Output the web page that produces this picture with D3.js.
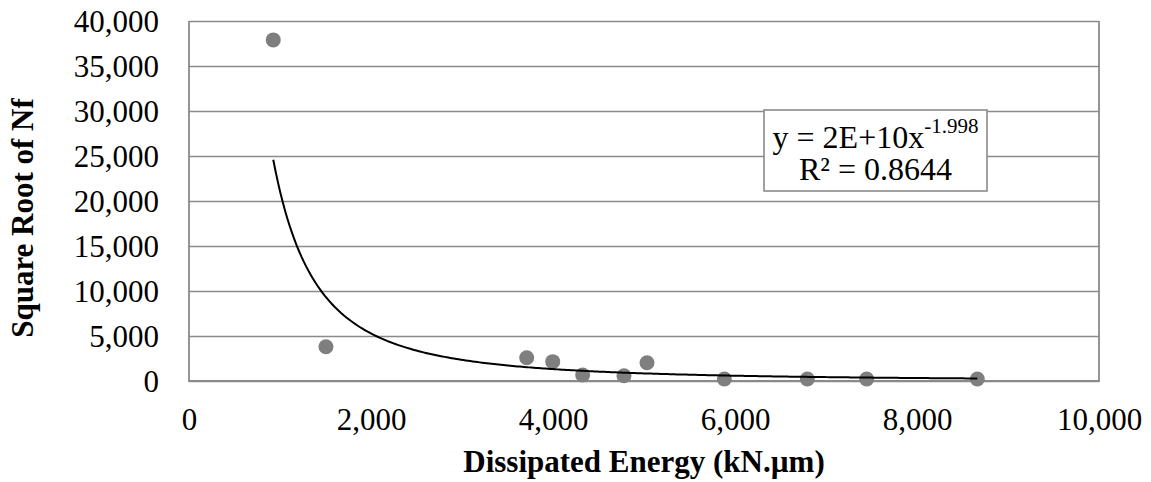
<!DOCTYPE html>
<html>
<head>
<meta charset="utf-8">
<script src="https://cdn.jsdelivr.net/npm/d3@7"></script>
<style>
  html, body { margin: 0; padding: 0; background: #fff; }
  svg { display: block; }
  text { font-family: "Liberation Serif", "Times New Roman", serif; fill: #000; }
</style>
</head>
<body>
<svg id="chart" width="1151" height="482"></svg>
<script>
// Dissipated energy (kN.µm) vs square root of cycles to failure
const energy = [926, 1505, 3711, 3997, 4326, 4780, 5033, 5883, 6795, 7447, 8663];
const sqrtNf = [37900, 3810, 2590, 2150, 670, 590, 2030, 230, 230, 230, 230];

const xTicks = [0, 2000, 4000, 6000, 8000, 10000];
const yTicks = [0, 5000, 10000, 15000, 20000, 25000, 30000, 35000, 40000];

// Power trendline y = a * x^b
const trendA = 2.08e10;
const trendB = -1.998;
const trendR2 = 0.8644;

const xTitle = "Dissipated Energy (kN.µm)";
const yTitle = "Square Root of Nf";

const svg = d3.select("#chart");
const margin = { left: 189, right: 52, top: 21, bottom: 101 };
const W = 1151, H = 482;
const iw = W - margin.left - margin.right;
const ih = H - margin.top - margin.bottom;

const x = d3.scaleLinear().domain([0, 10000]).range([0, iw]);
const y = d3.scaleLinear().domain([0, 40000]).range([ih, 0]);

const g = svg.append("g").attr("transform", `translate(${margin.left},${margin.top})`);
const grey = "#8a8a8a";
const fmt = d3.format(",");

// horizontal gridlines + y tick labels
const yAxis = g.append("g")
  .call(d3.axisLeft(y).tickValues(yTicks).tickFormat(fmt).tickSize(-iw).tickPadding(30));
yAxis.select(".domain").remove();
yAxis.selectAll(".tick line").attr("stroke", grey).attr("stroke-width", 1.6);
yAxis.selectAll(".tick text").style("font-size", "31px").attr("dy", "0.34em");

// x tick labels
const xAxis = g.append("g").attr("transform", `translate(0,${ih})`)
  .call(d3.axisBottom(x).tickValues(xTicks).tickFormat(fmt).tickSize(0).tickPadding(27));
xAxis.select(".domain").remove();
xAxis.selectAll(".tick text").style("font-size", "31px");

// plot frame (left, bottom, right)
g.append("path")
  .attr("d", `M0,0V${ih}H${iw}V0`)
  .attr("fill", "none").attr("stroke", grey).attr("stroke-width", 1.8);

// data points
g.append("g").selectAll("circle")
  .data(energy.map((e, i) => [e, sqrtNf[i]]))
  .join("circle")
  .attr("cx", d => x(d[0]))
  .attr("cy", d => y(d[1]))
  .attr("r", 7.5)
  .attr("fill", "#7f7f7f");

// power trendline across the data range
const xMin = d3.min(energy), xMax = d3.max(energy);
const curve = d3.range(0, 301).map(i => {
  const xv = xMin + (xMax - xMin) * i / 300;
  return [xv, trendA * Math.pow(xv, trendB)];
});
g.append("path")
  .datum(curve)
  .attr("fill", "none")
  .attr("stroke", "#000")
  .attr("stroke-width", 2)
  .attr("d", d3.line().x(d => x(d[0])).y(d => y(d[1])));

// equation box
const box = svg.append("g").attr("transform", "translate(764,110)");
box.append("rect")
  .attr("width", 223).attr("height", 81)
  .attr("fill", "#fff").attr("stroke", grey).attr("stroke-width", 1.6);
const mant = trendA.toExponential(0).replace("e", "E");
const eq = box.append("text")
  .attr("x", 111.5).attr("y", 38)
  .attr("text-anchor", "middle")
  .style("font-size", "32px");
eq.append("tspan").text(`y = ${mant}x`);
eq.append("tspan").attr("dy", -15).style("font-size", "21px").text(trendB.toFixed(3));
box.append("text")
  .attr("x", 111.5).attr("y", 70)
  .attr("text-anchor", "middle")
  .style("font-size", "32px")
  .text(`R² = ${trendR2.toFixed(4)}`);

// axis titles
svg.append("text")
  .attr("x", margin.left + iw / 2).attr("y", 472)
  .attr("text-anchor", "middle")
  .style("font-size", "31px").style("font-weight", "bold")
  .text(xTitle);
svg.append("text")
  .attr("transform", `translate(33,${218}) rotate(-90)`)
  .attr("text-anchor", "middle")
  .style("font-size", "31px").style("font-weight", "bold")
  .text(yTitle);
</script>
</body>
</html>
